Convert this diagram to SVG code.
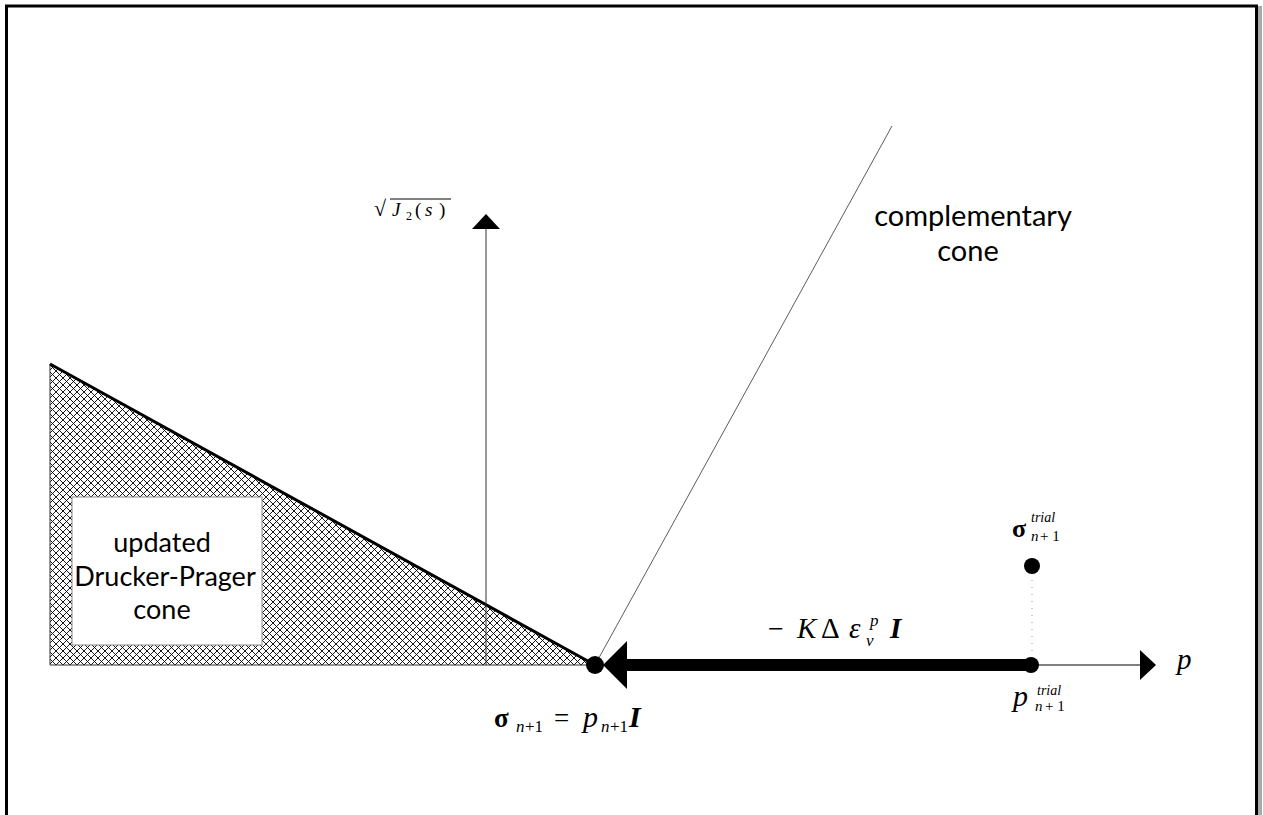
<svg xmlns="http://www.w3.org/2000/svg" width="1263" height="815" viewBox="0 0 1263 815">
<defs>
<pattern id="hatch" patternUnits="userSpaceOnUse" width="7" height="7">
<path d="M0,0 L7,7 M7,0 L0,7" stroke="#000" stroke-width="0.9"/>
</pattern>
<style>
.math{font-family:"Liberation Serif",serif;fill:#000}
.lbl{font-family:Lato,"Open Sans",sans-serif;fill:#000;text-anchor:middle}
</style>
</defs>
<rect width="1263" height="815" fill="#fff"/>
<g id="frame">
<path d="M1259.5,6 V815" stroke="#aaa" stroke-width="5"/>
<path d="M6.5,830 V6 H1256.5 V830" fill="none" stroke="#000" stroke-width="3"/>
</g>
<g id="dp-cone">
<polygon points="50,364 50,665 595,665" fill="url(#hatch)"/>
<polygon points="50,364 50,665 595,665" fill="none" stroke="#333" stroke-width="1"/>
<line x1="50" y1="364" x2="595" y2="665" stroke="#000" stroke-width="3"/>
<rect x="72" y="497" width="190" height="148" fill="#fff" stroke="#888" stroke-width="1"/>
<text class="lbl" font-size="27" x="162" y="552">updated</text>
<text class="lbl" font-size="27" x="165" y="586">Drucker-Prager</text>
<text class="lbl" font-size="27" x="162" y="619">cone</text>
</g>
<g id="connectors">
<line x1="486" y1="665" x2="486" y2="228" stroke="#333" stroke-width="1"/>
<polygon points="472,229 500,229 486,214" fill="#000"/>
<line x1="595" y1="665" x2="892" y2="126" stroke="#333" stroke-width="0.8"/>
<line x1="595" y1="665" x2="1141" y2="665" stroke="#000" stroke-width="1"/>
<polygon points="1140,650 1140,680 1156,665" fill="#000"/>
<line x1="1032" y1="573" x2="1032" y2="660" stroke="#999" stroke-width="1" stroke-dasharray="1,6"/>
<line x1="620" y1="665" x2="1030" y2="665" stroke="#000" stroke-width="12"/>
<polygon points="627,641 627,689 603,665" fill="#000"/>
</g>
<g id="points">
<circle cx="595" cy="665" r="9" fill="#000"/>
<circle cx="1031" cy="665" r="8" fill="#000"/>
<circle cx="1032" cy="566" r="8" fill="#000"/>
</g>
<g id="labels">
<text class="math" x="374" y="216" font-size="22">√</text>
<line x1="390" y1="199" x2="451" y2="199" stroke="#000" stroke-width="1"/>
<text class="math" x="392" y="216" font-size="19" font-style="italic">J</text>
<text class="math" x="406" y="220" font-size="12">2</text>
<text class="math" x="415" y="216" font-size="19">(</text>
<text class="math" x="425" y="216" font-size="19" font-style="italic">s</text>
<text class="math" x="439" y="216" font-size="19">)</text>
<text class="lbl" font-size="29" x="973" y="226">complementary</text>
<text class="lbl" font-size="29" x="968" y="261">cone</text>
<text class="math" x="1177" y="669" font-size="29" font-style="italic">p</text>
<text class="math" x="768" y="638" font-size="28">−</text>
<text class="math" x="797" y="638" font-size="29" font-style="italic">K</text>
<text class="math" x="821" y="638" font-size="29">Δ</text>
<text class="math" x="849" y="638" font-size="29" font-style="italic">ε</text>
<text class="math" x="870" y="626" font-size="17" font-style="italic">p</text>
<text class="math" x="866" y="646" font-size="17" font-style="italic">v</text>
<text class="math" x="890" y="638" font-size="29" font-style="italic" font-weight="bold">I</text>
<text class="math" x="494" y="727" font-size="27" font-weight="bold">σ</text>
<text class="math" x="516" y="732" font-size="17" font-style="italic">n</text>
<text class="math" x="525" y="732" font-size="17">+1</text>
<text class="math" x="554" y="727" font-size="27">=</text>
<text class="math" x="583" y="727" font-size="30" font-style="italic">p</text>
<text class="math" x="601" y="732" font-size="17" font-style="italic">n</text>
<text class="math" x="610" y="732" font-size="17">+1</text>
<text class="math" x="629" y="727" font-size="30" font-style="italic" font-weight="bold">I</text>
<text class="math" x="1012" y="537" font-size="26" font-weight="bold">σ</text>
<text class="math" x="1031" y="522" font-size="14" font-style="italic">trial</text>
<text class="math" x="1031" y="541" font-size="15" font-style="italic">n</text>
<text class="math" x="1040" y="541" font-size="15">+ 1</text>
<text class="math" x="1013" y="706" font-size="30" font-style="italic">p</text>
<text class="math" x="1037" y="695" font-size="14" font-style="italic">trial</text>
<text class="math" x="1035" y="711" font-size="15" font-style="italic">n</text>
<text class="math" x="1045" y="711" font-size="15">+ 1</text>
</g>
</svg>
